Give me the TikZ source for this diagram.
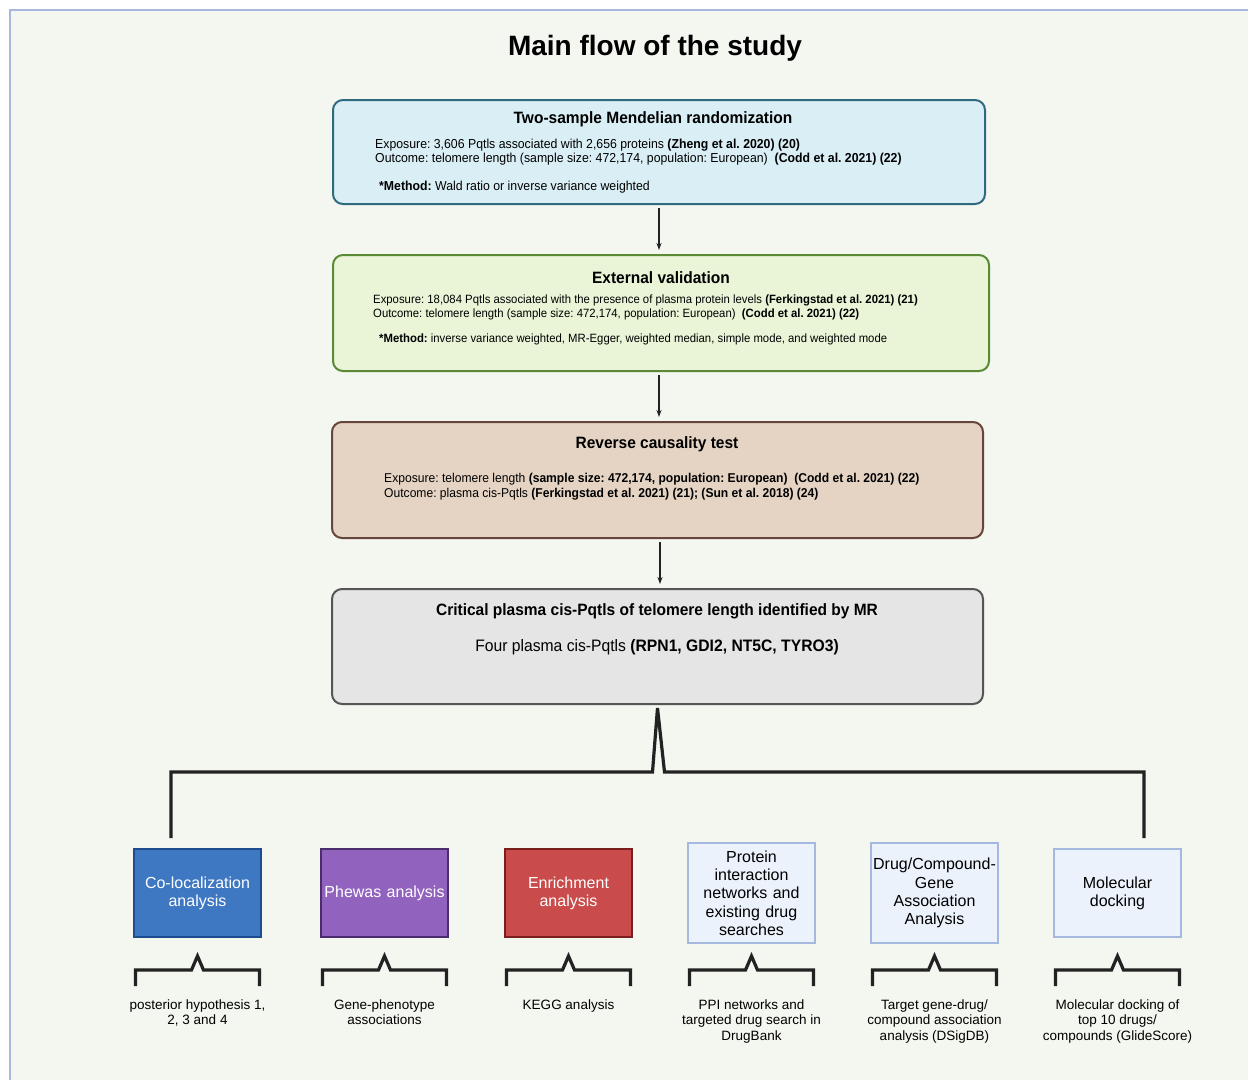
\documentclass[tikz,border=0pt]{standalone}
\usepackage{fontspec}
\setmainfont{Liberation Sans}
\newfontfamily\cond[FakeStretch=0.945]{Liberation Sans}
\frenchspacing
\usetikzlibrary{arrows.meta,calc}
\definecolor{bgc}{HTML}{F4F6F0}
\definecolor{framec}{HTML}{A8B8DC}
\definecolor{aF}{HTML}{DAEFF5}\definecolor{aD}{HTML}{2F6A7E}
\definecolor{bF}{HTML}{EAF5D8}\definecolor{bD}{HTML}{5A8A35}
\definecolor{cF}{HTML}{E5D4C4}\definecolor{cD}{HTML}{66463A}
\definecolor{dF}{HTML}{E5E5E5}\definecolor{dD}{HTML}{555555}
\definecolor{blF}{HTML}{3E78C2}\definecolor{blD}{HTML}{1E4C8E}
\definecolor{puF}{HTML}{9163BE}\definecolor{puD}{HTML}{4B2D6E}
\definecolor{reF}{HTML}{C94B4B}\definecolor{reD}{HTML}{7B1E1E}
\definecolor{ltF}{HTML}{EBF2FB}\definecolor{ltD}{HTML}{A5B9DE}
\definecolor{ink}{HTML}{222222}
\tikzset{
  bigbox/.style={rounded corners=10pt, line width=2pt, inner sep=0pt},
  ttl/.style={font=\cond\bfseries\fontsize{16.4}{19}\selectfont, inner sep=0pt, text=black},
  txta/.style={font=\frenchspacing\cond\fontsize{13}{15}\selectfont, inner sep=0pt, anchor=west, text=black},
  txtc/.style={font=\frenchspacing\cond\fontsize{12.8}{15}\selectfont, inner sep=0pt, anchor=west, text=black},
  txtb/.style={font=\frenchspacing\cond\fontsize{12}{14}\selectfont, inner sep=0pt, anchor=west, text=black},
  flowarrow/.style={-{Stealth[length=7pt,width=5pt]}, line width=1.1pt, ink, shorten >=4pt, shorten <=3pt},
  smallbox/.style={minimum width=125pt, minimum height=88pt, line width=1.5pt, inner sep=2pt,
     align=center, font=\fontsize{16}{18.3}\selectfont, text width=123pt},
  tallbox/.style={smallbox, minimum height=100pt},
  bracketline/.style={line width=3.2pt, ink, line join=miter},
  lbl/.style={font=\fontsize{13.5}{15.5}\selectfont, align=center, inner sep=0pt, anchor=north, text=black},
}
\begin{document}
\begin{tikzpicture}[x=1pt,y=-1pt]
\useasboundingbox (0,0) rectangle (1248,1080);
\fill[white] (0,0) rectangle (1248,1080);
\fill[bgc] (10,10) rectangle (1248,1080);
\draw[framec, line width=2pt] (10,1080) -- (10,10) -- (1248,10);

\node[font=\bfseries\fontsize{28}{32}\selectfont, inner sep=0pt] (title) at (655,48) {Main flow of the study};

% Box 1
\node[bigbox, fill=aF, draw=aD, minimum width=652pt, minimum height=104pt] (b1) at (659,152) {};
\node[ttl] (b1t) at (653,119.5) {Two-sample Mendelian randomization};
\node[txta] (b1a) at (375,145.5) {Exposure: 3,606 Pqtls associated with 2,656 proteins \textbf{(Zheng et al. 2020) (20)}};
\node[txta] (b1b) at (375,159.5) {Outcome: telomere length (sample size: 472,174, population: European)\ \ \textbf{(Codd et al. 2021) (22)}};
\node[txta] (b1c) at (379,187.5) {\textbf{*Method:} Wald ratio or inverse variance weighted};

% Box 2
\node[bigbox, fill=bF, draw=bD, minimum width=656pt, minimum height=116pt] (b2) at (661,313) {};
\node[ttl] (b2t) at (661,277.5) {External validation};
\node[txtb] (b2a) at (373,300.5) {Exposure: 18,084 Pqtls associated with the presence of plasma protein levels \textbf{(Ferkingstad et al. 2021) (21)}};
\node[txtb] (b2b) at (373,314.5) {Outcome: telomere length (sample size: 472,174, population: European)\ \ \textbf{(Codd et al. 2021) (22)}};
\node[txtb] (b2c) at (379,339.5) {\textbf{*Method:} inverse variance weighted, MR-Egger, weighted median, simple mode, and weighted mode};

% Box 3
\node[bigbox, fill=cF, draw=cD, minimum width=651pt, minimum height=116pt] (b3) at (657.5,480) {};
\node[ttl] (b3t) at (657,444.5) {Reverse causality test};
\node[txtc] (b3a) at (384,479.5) {Exposure: telomere length \textbf{(sample size: 472,174, population: European)\ \ (Codd et al. 2021) (22)}};
\node[txtc] (b3b) at (384,494.5) {Outcome: plasma cis-Pqtls \textbf{(Ferkingstad et al. 2021) (21); (Sun et al. 2018) (24)}};

% Box 4
\node[bigbox, fill=dF, draw=dD, minimum width=651pt, minimum height=115pt] (b4) at (657.5,646.5) {};
\node[ttl] (b4t) at (657,611.5) {Critical plasma cis-Pqtls of telomere length identified by MR};
\node[font=\cond\fontsize{16.6}{20}\selectfont, inner sep=0pt] (b4a) at (657,647.5) {Four plasma cis-Pqtls \textbf{(RPN1, GDI2, NT5C, TYRO3)}};

% arrows
\draw[flowarrow] (b1.south -| 659,0) -- (b2.north -| 659,0);
\draw[flowarrow] (b2.south -| 659,0) -- (b3.north -| 659,0);
\draw[flowarrow] (b3.south -| 660,0) -- (b4.north -| 660,0);

% bottom boxes
\node[smallbox, fill=blF, draw=blD, text=white] (s1) at (197.5,893) {Co-localization\\analysis};
\node[smallbox, fill=puF, draw=puD, text=white] (s2) at (384.5,893) {Phewas analysis};
\node[smallbox, fill=reF, draw=reD, text=white] (s3) at (568.5,893) {Enrichment\\analysis};
\node[tallbox, fill=ltF, draw=ltD, text=black] (s4) at (751.5,893) {Protein\\interaction\\networks and\\existing drug\\searches};
\node[tallbox, fill=ltF, draw=ltD, text=black] (s5) at (934.5,893) {Drug/Compound-\\Gene\\Association\\Analysis};
\node[smallbox, fill=ltF, draw=ltD, text=black] (s6) at (1117.5,893) {Molecular\\docking};

% big bracket
\coordinate (bl) at (171,838);
\coordinate (br) at (1144,838);
\coordinate (peak) at ([yshift=-3pt]b4.south);
\draw[bracketline] (bl) -- (bl |- 0,772) -- ([xshift=-5pt]peak |- 0,772) -- (peak) -- ([xshift=7pt]peak |- 0,772) -- (br |- 0,772) -- (br);

% small brackets and labels
\foreach \s/\t in {s1/{posterior hypothesis 1,\\2, 3 and 4}, s2/{Gene-phenotype\\associations}, s3/{KEGG analysis}, s4/{PPI networks and\\targeted drug search in\\DrugBank}, s5/{Target gene-drug/\\compound association\\analysis (DSigDB)}, s6/{Molecular docking of\\top 10 drugs/\\compounds (GlideScore)}}{
  \draw[bracketline] (\s.center |- 0,986) ++(-62,0) -- ++(0,-16) -- ++(56,0) -- ++(6,-14) -- ++(6,14) -- ++(56,0) -- ++(0,16);
  \node[lbl] (\s lbl) at (\s.center |- 0,999.5) {\t};
}
\end{tikzpicture}
\end{document}
